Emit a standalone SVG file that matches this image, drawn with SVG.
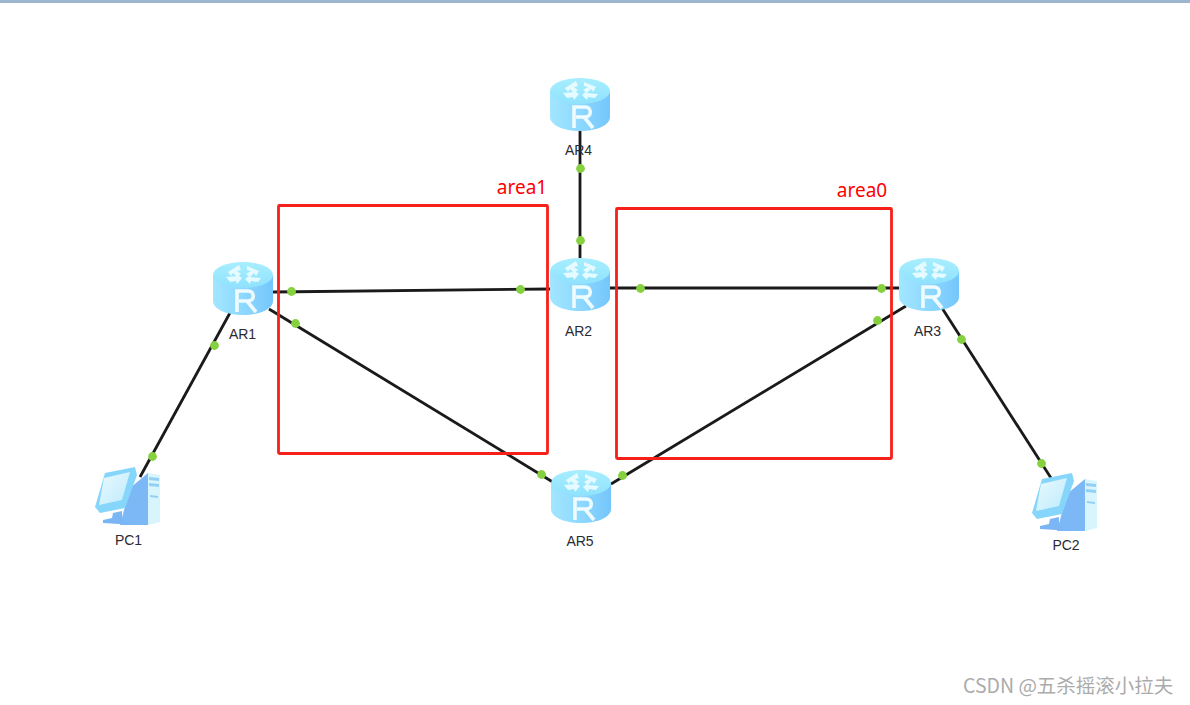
<svg xmlns="http://www.w3.org/2000/svg" width="1190" height="705" viewBox="0 0 1190 705">
<style>
.link{stroke:#1a1a1a;stroke-width:2.8;fill:none}
.dot{fill:#86d13f}
.lbl{font-family:"Liberation Sans",Arial,sans-serif;font-size:14px;fill:#2a2a33;text-anchor:middle}
.area{fill:none;stroke:#f5201a;stroke-width:2.8}
.arealbl{font-family:"Noto Sans","Liberation Sans",sans-serif;font-size:19px;fill:#f00;text-anchor:middle}
.wm{font-family:"Noto Sans CJK SC","Noto Sans",sans-serif;font-size:19.500px;fill:#ababab}
</style>
<defs>
<linearGradient id="side" x1="0" x2="1" y1="0" y2="0"><stop offset="0" stop-color="#a2e6ff"/><stop offset="0.5" stop-color="#8ed8ff"/><stop offset="1" stop-color="#74c6fb"/></linearGradient>
<linearGradient id="top" x1="0" x2="0" y1="0" y2="1"><stop offset="0" stop-color="#a8eeff"/><stop offset="1" stop-color="#8fe2fd"/></linearGradient>
<linearGradient id="screen" x1="0" x2="1" y1="0" y2="1"><stop offset="0" stop-color="#eafaff"/><stop offset="1" stop-color="#bdeafb"/></linearGradient>
<g id="router">
<path d="M0 13V39C0 47 13 53 30 53S60 47 60 39V13Z" fill="url(#side)"/>
<ellipse cx="30" cy="13" rx="30" ry="13" fill="url(#top)"/>
<path d="M15 10L26 3 28 8 24 9 28 12 24 15 20 11 18 14ZM46 9L34 4 34 8 38 9 33 12 37 15 41 11 43 14ZM13 15L25 14 23 12 29 16 24 22 23 19 17 20ZM48 16L36 15 38 12 32 17 37 22 38 19 45 20Z" fill="#e6fbff"/>
<path d="M24 50V29H35C42 29 42 39 35 39H26M34 39L43 50" fill="none" stroke="#eefcff" stroke-width="3.600"/>
</g>
<g id="pc">
<path d="M34 23L52 8V60H24Z" fill="#7db8f6"/>
<path d="M52 8L64 10V57L52 60Z" fill="#d8f5fe"/>
<path d="M53 12L63 13V16L53 15ZM53 18L63 19V22L53 21ZM54 30L62 31V33L54 32Z" fill="#93d0f2"/>
<path d="M9 8L39 2 41 10 29 43 4 48-1 42Z" fill="#86d6fb"/>
<path d="M8 13L34 7 26 35 3 40Z" fill="url(#screen)"/>
<path d="M17 48L26 46V55L39 60 7 58V55L16 53Z" fill="#7ab6f4"/>
</g>
</defs>
<rect width="1190" height="705" fill="#fff"/>
<rect id="topbar" width="1190" height="3" fill="#9db5cd"/>
<g id="connectors">
<path class="link" d="M580 130V258"/>
<path class="link" d="M273 292L550 289"/>
<path class="link" d="M610 288H899"/>
<path class="link" d="M269 309L556 484"/>
<path class="link" d="M611 484L906 306"/>
<path class="link" d="M231 311L140 477"/>
<path class="link" d="M942 308L1051 478"/>
<g class="dots">
<circle class="dot" cx="580.500" cy="168.500" r="4.400"/><circle class="dot" cx="580.500" cy="240.500" r="4.400"/>
<circle class="dot" cx="291.500" cy="291.500" r="4.400"/><circle class="dot" cx="520.500" cy="289.500" r="4.400"/>
<circle class="dot" cx="640.500" cy="288.500" r="4.400"/><circle class="dot" cx="881.500" cy="288.500" r="4.400"/>
<circle class="dot" cx="295.500" cy="323.500" r="4.400"/><circle class="dot" cx="541.500" cy="474.500" r="4.400"/>
<circle class="dot" cx="622.500" cy="475.500" r="4.400"/><circle class="dot" cx="877.500" cy="320.500" r="4.400"/>
<circle class="dot" cx="214.500" cy="345.500" r="4.400"/><circle class="dot" cx="152.500" cy="456.500" r="4.400"/>
<circle class="dot" cx="961.500" cy="339.500" r="4.400"/><circle class="dot" cx="1041.500" cy="463.500" r="4.400"/>
</g>
</g>
<g id="AR4"><use href="#router" x="550" y="78"/><text class="lbl" x="578.500" y="155">AR4</text></g>
<g id="AR2"><use href="#router" x="550" y="258"/><text class="lbl" x="578.500" y="336">AR2</text></g>
<g id="AR1"><use href="#router" x="213" y="262"/><text class="lbl" x="242.500" y="339">AR1</text></g>
<g id="AR3"><use href="#router" x="899" y="258"/><text class="lbl" x="927.500" y="336">AR3</text></g>
<g id="AR5"><use href="#router" x="551" y="470"/><text class="lbl" x="580" y="546">AR5</text></g>
<g id="PC1"><use href="#pc" x="96" y="465"/><text class="lbl" x="128.500" y="545">PC1</text></g>
<g id="PC2"><use href="#pc" x="1033" y="471"/><text class="lbl" x="1066" y="550">PC2</text></g>
<g id="area1"><rect class="area" x="278.500" y="205.500" width="269" height="248" rx="1"/><text class="arealbl" x="522" y="194">area1</text></g>
<g id="area0"><rect class="area" x="616.500" y="208.500" width="275" height="250" rx="1"/><text class="arealbl" x="862" y="197">area0</text></g>
<text id="watermark" class="wm" x="963" y="693">CSDN @五杀摇滚小拉夫</text>
</svg>
